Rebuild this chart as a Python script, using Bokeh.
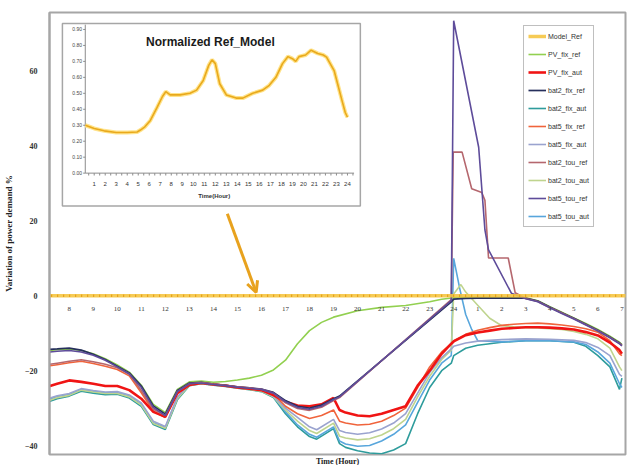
import numpy as np
from bokeh.plotting import figure
from bokeh.models import Range1d, FixedTicker, Legend, LegendItem, Arrow, OpenHead, Title
from bokeh.core.properties import value
from bokeh.embed import file_html
from bokeh.resources import INLINE

# ---------------- data ----------------
Y_TICKS = [-40, -20, 0, 20, 40, 60]
X_LABEL_HOURS = [8, 9, 10, 11, 12, 13, 14, 15, 16, 17, 18, 19, 20, 21, 22, 23, 24, 25, 26, 27, 28, 29, 30, 31]
X_LABELS = ["8", "9", "10", "11", "12", "13", "14", "15", "16", "17", "18", "19", "20", "21", "22", "23",
            "24", "1", "2", "3", "4", "5", "6", "7"]

MORNING_HOURS = [7.2, 7.5, 8, 8.5, 9, 9.5, 10, 10.5, 11, 11.5, 12, 12.5, 13, 13.5, 14, 14.5, 15, 15.5, 16, 16.5]

model_ref_hours = [7.0, 31.5]
model_ref_values = [0.0, 0.0]

pv_fix_ref_m = [-14.6, -14.4, -14.2, -14.6, -15.5, -16.8, -18.5, -20.4, -23.9, -29.0, -31.2, -25.0, -23.0, -22.8, -23.1, -22.9, -22.5, -22.0, -21.2, -19.8]
pv_fix_ref_h = [17, 17.5, 18, 18.5, 19, 20, 21, 22, 23, 23.5, 24, 24.5, 25, 26, 27, 27.5, 28, 28.5, 29, 29.5, 30, 30.5, 30.9, 31]
pv_fix_ref_v = [-17.2, -12.8, -9.3, -7.1, -5.7, -4.0, -3.1, -2.6, -1.6, -0.9, -0.5, -0.4, -0.4, -0.4, -0.5, -1.3, -2.9, -4.4, -5.9, -7.4, -9.0, -10.8, -12.4, -13.0]

pv_fix_aut_m = [-24.1, -23.5, -22.6, -23.0, -23.5, -24.1, -24.1, -25.2, -27.5, -31.0, -32.3, -26.0, -23.8, -23.3, -23.7, -24.0, -24.5, -24.8, -25.2, -26.5]
pv_fix_aut_h = [17, 17.5, 18, 18.5, 19, 19.25, 19.5, 20, 20.5, 21, 21.5, 22, 22.5, 23, 23.5, 23.9, 24, 24.5, 25, 25.5, 26, 26.5, 27, 27.5, 28, 28.5, 29, 29.5, 30, 30.5, 30.9, 31]
pv_fix_aut_v = [-28.3, -29.3, -29.5, -29.0, -27.3, -30.5, -31.2, -32.0, -32.2, -31.5, -30.5, -29.5, -24.0, -20.0, -15.5, -12.8, -12.2, -10.5, -9.8, -9.3, -8.8, -8.6, -8.4, -8.4, -8.5, -8.7, -9.0, -9.7, -10.6, -12.5, -14.5, -15.5]

bat2_fix_ref_m = [-14.3, -14.2, -14.0, -14.5, -15.6, -17.0, -18.8, -20.6, -24.1, -29.4, -31.6, -25.3, -23.3, -23.1, -23.6, -23.9, -24.3, -24.6, -24.9, -25.8]
bat2_fix_ref_h = [17, 17.5, 18, 18.5, 19, 19.25, 23.9, 24, 24.5, 25, 26, 27, 27.5, 28, 28.5, 29, 29.5, 30, 30.5, 30.9, 31]
bat2_fix_ref_v = [-28.0, -29.5, -30.0, -29.2, -27.5, -26.8, -1.6, -0.9, -0.7, -0.6, -0.6, -0.6, -1.4, -3.0, -4.5, -6.0, -7.6, -9.2, -11.0, -12.6, -13.2]

bat2_fix_aut_m = [-28.2, -27.5, -26.8, -25.5, -26.0, -26.4, -26.3, -27.3, -29.5, -34.4, -35.7, -27.8, -24.0, -23.5, -23.9, -24.2, -24.7, -25.1, -25.6, -27.2]
bat2_fix_aut_h = [17, 17.5, 18, 18.3, 19, 19.25, 19.5, 20, 20.5, 21, 21.5, 22, 22.5, 23, 23.5, 23.9, 24, 24.5, 25, 26, 27, 28, 29, 29.5, 30, 30.5, 30.9, 31]
bat2_fix_aut_v = [-31.5, -35.0, -37.6, -38.3, -35.5, -39.5, -40.5, -41.4, -42.0, -42.2, -41.2, -39.5, -31.5, -24.5, -20.0, -18.0, -16.0, -14.0, -13.2, -12.4, -12.0, -12.0, -12.4, -13.5, -16.0, -19.0, -25.0, -22.0]

bat5_fix_ref_m = [-18.7, -18.4, -17.9, -17.5, -18.1, -18.8, -19.7, -21.4, -25.9, -30.8, -32.5, -25.9, -23.6, -23.3, -23.7, -24.0, -24.5, -24.8, -25.2, -26.3]
bat5_fix_ref_h = [17, 17.5, 18, 18.5, 19, 19.25, 19.5, 20, 20.5, 21, 21.5, 22, 22.5, 23, 23.5, 23.9, 24, 24.5, 25, 25.5, 26, 26.5, 27, 27.5, 28, 28.5, 29, 29.5, 30, 30.5, 30.9, 31]
bat5_fix_ref_v = [-29.5, -31.5, -32.8, -32.0, -30.5, -33.5, -34.0, -34.5, -34.3, -33.5, -32.0, -30.0, -24.5, -19.0, -15.0, -12.8, -12.0, -10.3, -9.2, -8.5, -7.9, -7.6, -7.4, -7.3, -7.5, -7.8, -8.2, -8.8, -9.7, -12.0, -15.5, -16.0]

bat5_fix_aut_m = [-27.3, -26.7, -26.1, -24.8, -25.3, -25.7, -25.6, -26.5, -28.6, -33.5, -34.9, -27.0, -23.7, -23.2, -23.6, -23.9, -24.4, -24.8, -25.3, -26.8]
bat5_fix_aut_h = [17, 17.5, 18, 18.3, 19, 19.25, 19.5, 20, 20.5, 21, 21.5, 22, 22.5, 23, 23.5, 23.9, 24, 24.5, 25, 26, 27, 28, 29, 29.5, 30, 30.5, 30.9, 31]
bat5_fix_aut_v = [-30.0, -32.5, -35.0, -35.8, -33.0, -36.0, -36.5, -37.0, -36.6, -35.6, -34.0, -31.5, -26.0, -20.5, -16.5, -14.2, -13.5, -12.6, -12.1, -11.7, -11.5, -11.6, -11.9, -12.5, -13.8, -16.0, -21.0, -21.5]

bat2_tou_ref_m = [-18.3, -18.0, -17.5, -17.1, -17.6, -18.3, -19.2, -20.9, -25.3, -30.3, -32.0, -25.6, -23.5, -23.2, -23.6, -23.9, -24.3, -24.6, -25.0, -26.0]
bat2_tou_ref_h = [17, 17.5, 18, 18.5, 19, 19.25, 23.9, 23.98, 24.35, 24.75, 25.17, 25.3, 25.45, 26.27, 26.56, 27, 27.5, 28, 28.5, 29, 29.5, 30, 30.5, 30.9, 31]
bat2_tou_ref_v = [-28.6, -30.1, -30.6, -29.8, -28.0, -27.2, -1.0, 38.4, 38.4, 28.6, 27.6, 25.5, 10.1, 10.1, 0.8, -0.7, -1.5, -3.1, -4.6, -6.1, -7.7, -9.3, -11.1, -12.7, -13.3]

bat2_tou_aut_m = [-27.9, -27.2, -26.6, -25.2, -25.7, -26.1, -26.1, -27.0, -29.2, -34.1, -35.4, -27.5, -23.9, -23.4, -23.8, -24.1, -24.6, -25.0, -25.5, -27.0]
bat2_tou_aut_h = [17, 17.5, 18, 18.3, 19, 19.25, 19.5, 20, 20.5, 21, 21.5, 22, 22.5, 23, 23.5, 23.9, 24.0, 24.3, 24.5, 25, 25.5, 26, 26.5, 27, 27.5, 28, 28.5, 29, 29.5, 30, 30.5, 30.9, 31]
bat2_tou_aut_v = [-30.5, -33.5, -36.0, -36.8, -34.0, -37.5, -38.0, -38.5, -38.2, -37.2, -35.5, -33.0, -27.0, -21.5, -17.0, -14.5, 0.5, 3.0, 1.0, -2.5, -6.0, -8.0, -8.3, -8.5, -8.6, -8.8, -9.0, -9.5, -10.3, -11.5, -14.0, -19.0, -20.0]

bat5_tou_ref_m = [-15.0, -14.8, -14.6, -15.0, -15.9, -17.2, -19.0, -20.9, -24.5, -29.8, -32.0, -25.6, -23.5, -23.3, -23.7, -24.0, -24.4, -24.7, -25.0, -26.0]
bat5_tou_ref_h = [17, 17.5, 18, 18.5, 19, 19.25, 23.9, 24.0, 25.04, 25.3, 25.45, 26.4, 27, 27.5, 28, 28.5, 29, 29.5, 30, 30.5, 30.9, 31]
bat5_tou_ref_v = [-28.3, -29.8, -30.3, -29.5, -27.7, -27.0, -1.3, 73.5, 39.7, 17.6, 12.3, 0.7, -0.8, -1.6, -3.2, -4.7, -6.2, -7.8, -9.4, -11.2, -12.8, -13.4]

bat5_tou_aut_m = [-27.6, -27.0, -26.4, -25.0, -25.5, -25.9, -25.9, -26.8, -29.0, -33.9, -35.2, -27.3, -23.8, -23.3, -23.7, -24.0, -24.5, -24.9, -25.4, -27.0]
bat5_tou_aut_h = [17, 17.5, 18, 18.3, 19, 19.25, 19.5, 20, 20.5, 21, 21.5, 22, 22.5, 23, 23.5, 23.9, 24.0, 24.25, 24.5, 24.75, 25, 26, 27, 28, 29, 29.5, 30, 30.5, 30.9, 31]
bat5_tou_aut_v = [-31.0, -34.5, -37.0, -37.8, -35.0, -38.8, -39.6, -40.2, -40.0, -38.8, -37.0, -34.5, -28.5, -22.5, -18.0, -16.0, 10.0, 2.0, -5.0, -9.0, -12.0, -12.3, -12.0, -12.0, -12.3, -13.0, -15.0, -18.0, -23.5, -24.5]

# inset: Normalized Ref_Model
INSET_HOURS = [0.2, 1.0, 1.9, 3.0, 4.0, 4.9, 5.2, 5.6, 6.1, 6.7, 7.2, 7.5, 7.9, 8.8, 9.7, 10.3, 10.9, 11.4, 11.7, 12.0,
               12.4, 13.0, 13.9, 14.5, 15.4, 16.3, 16.9, 17.5, 18.1, 18.6, 19.0, 19.3, 19.6, 20.2, 20.7, 21.3, 21.8, 22.1,
               22.8, 23.5, 23.8, 24.0]
INSET_VALUES = [0.30, 0.28, 0.265, 0.255, 0.255, 0.258, 0.27, 0.29, 0.33, 0.41, 0.48, 0.51, 0.49, 0.49, 0.50, 0.52, 0.58,
                0.675, 0.71, 0.686, 0.56, 0.49, 0.47, 0.47, 0.50, 0.52, 0.55, 0.60, 0.686, 0.73, 0.717, 0.70, 0.73, 0.74,
                0.77, 0.75, 0.74, 0.727, 0.64, 0.456, 0.38, 0.35]
INSET_Y_TICKS = [0.0, 0.1, 0.2, 0.3, 0.4, 0.5, 0.6, 0.7, 0.8, 0.9]
INSET_Y_LABELS = ["0.00", "0.10", "0.20", "0.30", "0.40", "0.50", "0.60", "0.70", "0.80", "0.90"]
INSET_X_TICKS = list(range(1, 25))
INSET_X_LABELS = [str(h) for h in INSET_X_TICKS]

SERIES = [
    ("PV_fix_ref", pv_fix_ref_m, pv_fix_ref_h, pv_fix_ref_v, "#92D050", 1.6),
    ("PV_fix_aut", pv_fix_aut_m, pv_fix_aut_h, pv_fix_aut_v, "#F01414", 2.6),
    ("bat2_fix_ref", bat2_fix_ref_m, bat2_fix_ref_h, bat2_fix_ref_v, "#262F5C", 1.7),
    ("bat2_fix_aut", bat2_fix_aut_m, bat2_fix_aut_h, bat2_fix_aut_v, "#2E9C9C", 1.6),
    ("bat5_fix_ref", bat5_fix_ref_m, bat5_fix_ref_h, bat5_fix_ref_v, "#F0643C", 1.6),
    ("bat5_fix_aut", bat5_fix_aut_m, bat5_fix_aut_h, bat5_fix_aut_v, "#9AA3CF", 1.6),
    ("bat2_tou_ref", bat2_tou_ref_m, bat2_tou_ref_h, bat2_tou_ref_v, "#B5676E", 1.6),
    ("bat2_tou_aut", bat2_tou_aut_m, bat2_tou_aut_h, bat2_tou_aut_v, "#BFD48E", 1.6),
    ("bat5_tou_ref", bat5_tou_ref_m, bat5_tou_ref_h, bat5_tou_ref_v, "#5E4C9A", 1.6),
    ("bat5_tou_aut", bat5_tou_aut_m, bat5_tou_aut_h, bat5_tou_aut_v, "#58A6DC", 1.6),
]
DRAW_ORDER = ["bat2_fix_aut", "bat5_tou_aut", "bat2_tou_aut", "bat5_fix_aut", "bat5_fix_ref",
              "PV_fix_aut", "PV_fix_ref", "bat2_fix_ref", "bat2_tou_ref", "bat5_tou_ref"]

# ---------------- figure ----------------
p = figure(width=627, height=465, output_backend="svg", toolbar_location=None,
           x_range=Range1d(7.18, 31.15), y_range=Range1d(-42.4, 75.7),
           x_axis_location=None,
           min_border_left=45, min_border_right=2, min_border_top=12, min_border_bottom=0,
           background_fill_color="white", border_fill_color="white")
p.grid.visible = False
p.outline_line_color = "#A6A6A6"
p.outline_line_width = 2

p.yaxis.ticker = FixedTicker(ticks=Y_TICKS)
p.yaxis.major_label_text_font = "Liberation Serif"
p.yaxis.major_label_text_font_style = "bold"
p.yaxis.major_label_text_font_size = "8px"
p.yaxis.major_label_text_color = "#333333"
p.yaxis.major_tick_line_color = None
p.yaxis.minor_tick_line_color = None
p.yaxis.axis_line_color = "#A6A6A6"
p.yaxis.axis_line_width = 2
p.yaxis.major_label_standoff = 6
p.yaxis.axis_label = "Variation of power demand %"
p.yaxis.axis_label_text_font = "Liberation Serif"
p.yaxis.axis_label_text_font_style = "bold"
p.yaxis.axis_label_text_font_size = "9px"
p.yaxis.axis_label_text_color = "#222222"
p.yaxis.axis_label_standoff = 8

p.add_layout(Title(text="Time (Hour)", align="center", text_font="Liberation Serif",
                   text_font_style="bold", text_font_size="8px", text_color="#222222",
                   standoff=0, offset=0), "below")

renderers = {}
series_map = {s[0]: s for s in SERIES}
for name in DRAW_ORDER:
    _, m, h, v, col, w = series_map[name]
    renderers[name] = p.line(MORNING_HOURS + h, m + v, line_color=col, line_width=w)

# Model_Ref zero line
r_model = p.line(model_ref_hours, model_ref_values, line_color="#F5C542", line_width=3.5, line_alpha=0.9)
p.line(model_ref_hours, model_ref_values, line_color="#E39B12", line_width=2.5, line_dash="1 5")

# x tick labels sitting on the zero line
p.text(x=X_LABEL_HOURS, y=[-3.6] * len(X_LABEL_HOURS), text=X_LABELS,
       text_font=value("Liberation Serif"), text_font_size="7px", text_color="#333333",
       text_align="center", text_baseline="middle")

# arrow
p.add_layout(Arrow(end=OpenHead(size=11, line_color="#E8A21E", line_width=3),
                   x_start=14.58, y_start=21.9, x_end=15.78, y_end=0.9,
                   line_color="#E8A21E", line_width=3))

# ---------------- inset ----------------
p.extra_x_ranges = {"ix": Range1d(-3.059, 49.25)}
p.extra_y_ranges = {"iy": Range1d(-1.7625, 1.00625)}
kw = dict(x_range_name="ix", y_range_name="iy")
p.quad(left=-1.886, right=25.17, bottom=-0.206, top=0.9375, fill_color="white",
       line_color="#A6A6A6", line_width=1.5, **kw)
p.segment(x0=[0.19], y0=[0.0], x1=[0.19], y1=[0.93], line_color="#8C8C8C", line_width=1, **kw)
p.segment(x0=[0.19], y0=[0.0], x1=[24.6], y1=[0.0], line_color="#8C8C8C", line_width=1, **kw)
p.segment(x0=[0.0] * len(INSET_Y_TICKS), y0=INSET_Y_TICKS, x1=[0.19] * len(INSET_Y_TICKS), y1=INSET_Y_TICKS,
          line_color="#8C8C8C", line_width=1, **kw)
half_ticks = list(np.arange(0.5, 24.6, 0.5))
p.segment(x0=half_ticks, y0=[0.0] * len(half_ticks), x1=half_ticks, y1=[-0.015] * len(half_ticks),
          line_color="#8C8C8C", line_width=1, **kw)
p.text(x=[-0.1] * len(INSET_Y_TICKS), y=INSET_Y_TICKS, text=INSET_Y_LABELS,
       text_font=value("Liberation Sans"), text_font_size="5px", text_color="#444444",
       text_align="right", text_baseline="middle", **kw)
p.text(x=INSET_X_TICKS, y=[-0.069] * len(INSET_X_TICKS), text=INSET_X_LABELS,
       text_font=value("Liberation Sans"), text_font_size="6px", text_color="#333333",
       text_align="center", text_baseline="middle", **kw)
p.text(x=[11.9], y=[-0.145], text=["Time(Hour)"], text_font=value("Liberation Sans"),
       text_font_style="bold", text_font_size="6px", text_color="#333333",
       text_align="center", text_baseline="middle", **kw)
p.text(x=[11.55], y=[0.82], text=["Normalized Ref_Model"], text_font=value("Liberation Sans"),
       text_font_style="bold", text_font_size="12px", text_color="#1A1A1A",
       text_align="center", text_baseline="middle", **kw)
p.line(INSET_HOURS, INSET_VALUES, line_color="#FFE38A", line_width=4, **kw)
p.line(INSET_HOURS, INSET_VALUES, line_color="#E9A91C", line_width=1.6, **kw)

# ---------------- legend ----------------
items = [LegendItem(label="Model_Ref", renderers=[r_model])]
for s in SERIES:
    items.append(LegendItem(label=s[0], renderers=[renderers[s[0]]]))
legend = Legend(items=items, location=(474, 227), label_text_font="Liberation Sans",
                label_text_font_size="7px", label_text_color="#333333",
                glyph_width=18, glyph_height=10, label_height=12, label_standoff=2,
                spacing=6, padding=4, margin=0, border_line_color="#7F7F7F",
                border_line_width=1, background_fill_color="white", background_fill_alpha=1)
p.add_layout(legend)

open("out.html", "w").write(file_html(p, INLINE))
